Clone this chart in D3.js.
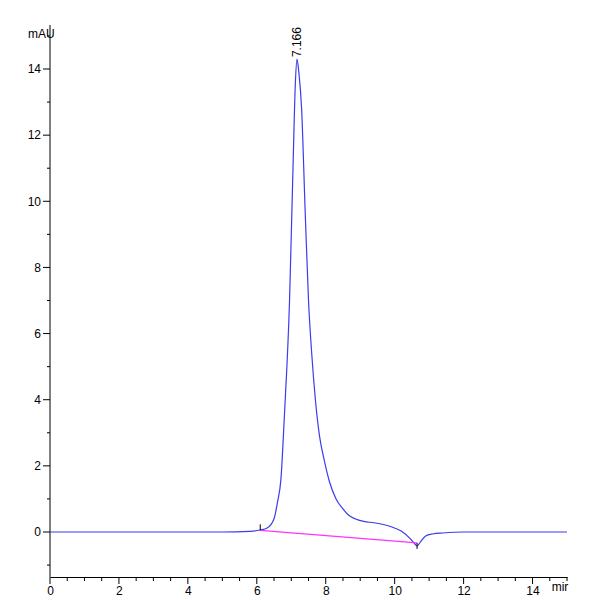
<!DOCTYPE html>
<html><head><meta charset="utf-8">
<script src="https://cdn.jsdelivr.net/npm/d3@7"></script>
<style>body{margin:0;background:#fff}text{font-family:"Liberation Sans Narrow","Liberation Sans",Arial,sans-serif;font-size:12px}</style>
</head><body><svg id="canvas" width="600" height="600"></svg>
<script>
let times = [0,1,2,3,4,5,5.8,6.1,6.3,6.5,6.6,6.7,6.8,6.95,7.05,7.12,7.166,7.22,7.3,7.4,7.5,7.6,7.7,7.82,7.95,8.1,8.3,8.5,8.65,8.85,9.1,9.4,9.7,9.9,10.2,10.45,10.6,10.65,10.75,10.9,11.1,11.4,12,13,14,15]
let signal = [0,0,0,0,0,0,0.02,0.06,0.12,0.4,0.9,1.6,3.5,7,11,13.6,14.3,13.9,12.8,9.8,7,5.3,4,2.9,2.2,1.55,1.0,0.7,0.52,0.4,0.32,0.28,0.22,0.16,0.02,-0.2,-0.38,-0.42,-0.3,-0.12,-0.06,-0.03,0,0,0,0]
let baseT = [6.1,10.65]
let baseV = [0.05,-0.33]
let xTicks = [0,2,4,6,8,10,12,14]
let yTicks = [0,2,4,6,8,10,12,14]

let canvas = d3.select('#canvas')
let x = d3.scaleLinear().domain([0,15]).range([50,567])
let y = d3.scaleLinear().domain([0,14]).range([532,69])

let xAxis = canvas.append('g').attr('transform','translate(0,577)')
    .call(d3.axisBottom(x).tickValues(xTicks).tickSize(0).tickPadding(9).tickFormat(d3.format('d')))
xAxis.select('.domain').attr('stroke','#000')
canvas.append('g').selectAll('line').data(d3.range(0,15.01,0.5)).enter().append('line')
    .attr('x1',d=>x(d)).attr('x2',d=>x(d)).attr('y1',577).attr('y2',d=>d%2===0?584:581).attr('stroke','#000')
canvas.append('text').attr('x',560).attr('y',591).attr('text-anchor','middle').text('mir')

let yAxis = canvas.append('g').attr('transform','translate(50,0)')
    .call(d3.axisLeft(y).tickValues(yTicks).tickSize(0).tickPadding(9))
yAxis.select('.domain').remove()
canvas.append('line').attr('x1',50).attr('x2',50).attr('y1',25).attr('y2',577).attr('stroke','#000')
canvas.append('g').selectAll('line').data(d3.range(-1,15.5,1)).enter().append('line')
    .attr('x1',d=>d%2===0?43:47).attr('x2',50).attr('y1',d=>y(d)).attr('y2',d=>y(d)).attr('stroke','#000')
canvas.append('text').attr('x',28).attr('y',38).text('mAU')

let line = d3.line().x(d=>x(d[0])).y(d=>y(d[1])).curve(d3.curveMonotoneX)
canvas.append('path').datum(times.map((t,i)=>[t,signal[i]]))
    .attr('d',line).attr('fill','none').attr('stroke','#3b3bef').attr('stroke-width',1.2)
canvas.append('path').datum(baseT.map((t,i)=>[t,baseV[i]]))
    .attr('d',d3.line().x(d=>x(d[0])).y(d=>y(d[1]))).attr('stroke','#ff33ff').attr('stroke-width',1.2)
canvas.append('line').attr('x1',x(6.1)).attr('x2',x(6.1)).attr('y1',y(0.05)-6).attr('y2',y(0.05)).attr('stroke','#000')
canvas.append('line').attr('x1',x(10.65)).attr('x2',x(10.65)).attr('y1',y(-0.33)).attr('y2',y(-0.33)+6).attr('stroke','#000')
canvas.append('text').attr('transform',`translate(${x(7.166)+4},${y(14.3)-2}) rotate(-90)`).text('7.166')
</script></body></html>
